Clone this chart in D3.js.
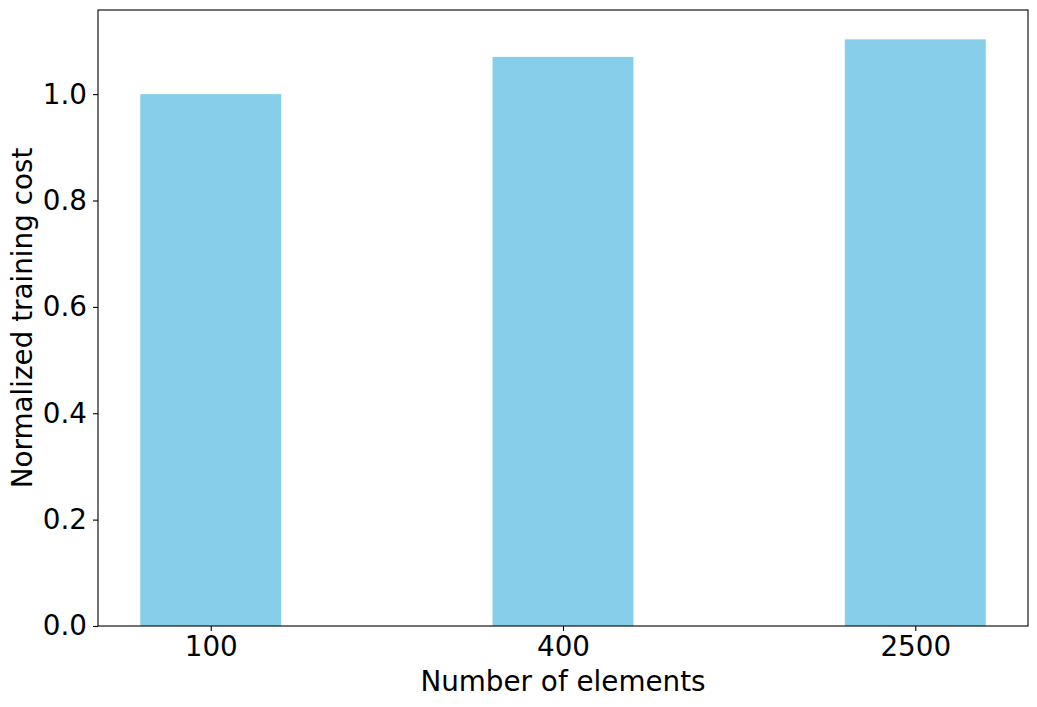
<!DOCTYPE html>
<html>
<head>
<meta charset="utf-8">
<script src="https://cdn.jsdelivr.net/npm/d3@7"></script>
<style>
  body { margin: 0; background: #fff; }
  svg text { font-family: "DejaVu Sans", sans-serif; fill: #000; }
</style>
</head>
<body>
<div id="chart"></div>
<script>
// data
var categories = ["100", "400", "2500"];
var costs = [1.0, 1.07, 1.103];
var yTicks = [0.0, 0.2, 0.4, 0.6, 0.8, 1.0];

// dimensions and margins of the graph
var margin = {top: 10, right: 9, bottom: 81, left: 98},
    width = 1037 - margin.left - margin.right,
    height = 707 - margin.top - margin.bottom;

var svg = d3.select("#chart")
  .append("svg")
    .attr("width", width + margin.left + margin.right)
    .attr("height", height + margin.top + margin.bottom)
  .append("g")
    .attr("transform", "translate(" + margin.left + "," + margin.top + ")");

// x in category units, like matplotlib: bars of width 0.4, 5% margins
var barW = 0.4;
var lo = -barW / 2, hi = categories.length - 1 + barW / 2, pad = (hi - lo) * 0.05;
var x = d3.scaleLinear().domain([lo - pad, hi + pad]).range([0, width]);

var y = d3.scaleLinear()
  .domain([0, d3.max(costs) * 1.05])
  .range([height, 0]);

// bars
svg.selectAll("rect.bar")
  .data(costs)
  .enter()
  .append("rect")
    .attr("class", "bar")
    .attr("x", function(d, i) { return x(i - barW / 2); })
    .attr("y", function(d) { return y(d); })
    .attr("width", x(barW) - x(0))
    .attr("height", function(d) { return height - y(d); })
    .attr("fill", "#87ceeb");

// axes
var xAxis = svg.append("g")
  .attr("transform", "translate(0," + height + ")")
  .call(d3.axisBottom(x)
    .tickValues(d3.range(categories.length))
    .tickFormat(function(i) { return categories[i]; })
    .tickSizeOuter(0).tickSize(5).tickPadding(5));

var yAxis = svg.append("g")
  .call(d3.axisLeft(y)
    .tickValues(yTicks)
    .tickFormat(d3.format(".1f"))
    .tickSizeOuter(0).tickSize(5).tickPadding(6));

[xAxis, yAxis].forEach(function(a) {
  a.attr("font-size", null).attr("font-family", null);
  a.select(".domain").remove();
  a.selectAll("line").attr("stroke", "#000").attr("stroke-width", 1.1);
  a.selectAll("text").style("font-size", "27.8px");
});

// frame
svg.append("rect")
  .attr("width", width)
  .attr("height", height)
  .attr("fill", "none")
  .attr("stroke", "#000")
  .attr("stroke-width", 1.1);

// labels
svg.append("text")
  .attr("x", width / 2)
  .attr("y", height + 65)
  .attr("text-anchor", "middle")
  .style("font-size", "27.8px")
  .text("Number of elements");

svg.append("text")
  .attr("transform", "translate(" + (-66) + "," + (height / 2) + ") rotate(-90)")
  .attr("text-anchor", "middle")
  .style("font-size", "27.8px")
  .text("Normalized training cost");
</script>
</body>
</html>
